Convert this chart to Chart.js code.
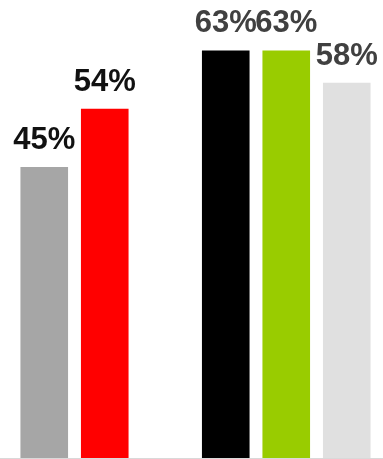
<!DOCTYPE html>
<html>
<head>
<meta charset="utf-8">
<script src="https://cdn.jsdelivr.net/npm/chart.js@4/dist/chart.umd.min.js"></script>
<style>
html,body{margin:0;padding:0;background:#fff;}
#wrap{width:383px;height:459px;position:relative;}
</style>
</head>
<body>
<div id="wrap"><canvas id="c" width="383" height="459"></canvas></div>
<script>
const categories = ["A", "B", "", "C", "D", "E"];
const values = [45, 54, null, 63, 63, 58];
const barColors = ["#A6A6A6", "#FF0000", "#FFFFFF", "#000000", "#99CC00", "#E0E0E0"];
const labelColors = ["#111111", "#111111", "#111111", "#404040", "#404040", "#404040"];

const labelPlugin = {
  id: 'labels',
  afterDatasetsDraw(chart) {
    const ctx = chart.ctx;
    const meta = chart.getDatasetMeta(0);
    ctx.save();
    ctx.font = 'bold 31px "Liberation Sans", Arial, sans-serif';
    ctx.textAlign = 'center';
    ctx.textBaseline = 'alphabetic';
    meta.data.forEach((bar, i) => {
      const v = values[i];
      if (v === null || v === undefined) return;
      ctx.fillStyle = labelColors[i];
      ctx.fillText(v + '%', bar.x, bar.y - 18);
    });
    ctx.restore();
  }
};

const baselinePlugin = {
  id: 'baseline',
  afterDatasetsDraw(chart) {
    const ctx = chart.ctx;
    const y = chart.scales.y.getPixelForValue(0);
    ctx.save();
    ctx.strokeStyle = '#D9D9D9';
    ctx.lineWidth = 1;
    ctx.beginPath();
    ctx.moveTo(0, Math.round(y) + 0.5);
    ctx.lineTo(chart.width, Math.round(y) + 0.5);
    ctx.stroke();
    ctx.restore();
  }
};

new Chart(document.getElementById('c'), {
  type: 'bar',
  data: {
    labels: categories,
    datasets: [{
      data: values,
      backgroundColor: barColors,
      borderWidth: 0,
      categoryPercentage: 0.787,
      barPercentage: 1
    }]
  },
  options: {
    responsive: false,
    animation: false,
    layout: { padding: { left: 14, right: 6, top: 0, bottom: 1 } },
    plugins: { legend: { display: false }, tooltip: { enabled: false } },
    scales: {
      x: { display: false },
      y: { display: false, min: 0, max: 70.8 }
    }
  },
  plugins: [labelPlugin, baselinePlugin]
});
</script>
</body>
</html>
